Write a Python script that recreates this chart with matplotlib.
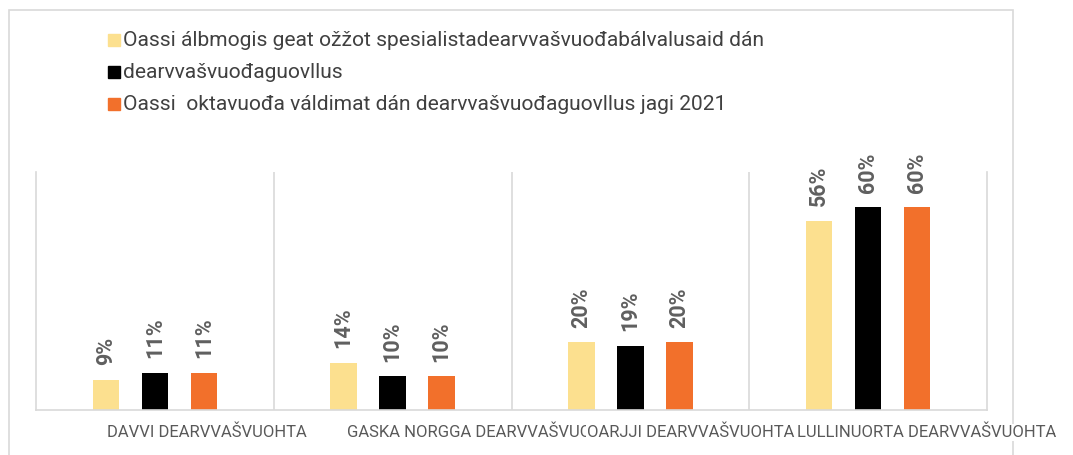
import numpy as np
import matplotlib
matplotlib.use("Agg")
import matplotlib.pyplot as plt
from matplotlib.patches import Rectangle

regions = ["DAVVI DEARVVAŠVUOHTA", "GASKA NORGGA DEARVVAŠVUOHTA",
           "OARJJI DEARVVAŠVUOHTA", "LULLINUORTA DEARVVAŠVUOHTA"]
series = ["Oassi álbmogis geat ožžot spesialistadearvvašvuođabálvalusaid dán",
          "dearvvašvuođaguovllus",
          "Oassi  oktavuođa váldimat dán dearvvašvuođaguovllus jagi 2021"]
pop_share = [9, 14, 20, 56]
area_share = [11, 10, 19, 60]
contact_share = [11, 10, 20, 60]
colors = ["#FCE08F", "#000000", "#F2702B"]
grey = "#595959"
line_grey = "#D9D9D9"

W, H = 1073, 455
fig = plt.figure(figsize=(W / 100, H / 100), dpi=100)
fig.patch.set_facecolor("white")

# outer chart frame
fig.patches.append(Rectangle((9 / W, -5 / H), 1004 / W, (H - 10 + 5) / H,
                             transform=fig.transFigure, fill=False,
                             edgecolor=line_grey, lw=1.2, zorder=-1))

ax = fig.add_axes([36 / W, (H - 410) / H, (987 - 36) / W, (410 - 172) / H])
ax.set_zorder(0)

x = np.arange(len(regions))
width = 0.112
step = 0.206
values = [pop_share, area_share, contact_share]
for k, (vals, c) in enumerate(zip(values, colors)):
    pos = x + (k - 1) * step
    ax.bar(pos, vals, width=width, color=c, zorder=2)
    for px, v in zip(pos, vals):
        ax.annotate(f"{v}%", (px, v), xytext=(0, 10.5), textcoords="offset points",
                    rotation=90, ha="center", va="bottom", fontsize=15.5,
                    fontweight="bold", color="#5f5f5f", family="Roboto")

ax.set_xlim(-0.5, 3.5)
ax.set_ylim(0, 70.4)
ax.set_xticks([])
ax.set_yticks([])
for b in x[:-1] + 0.5:
    ax.axvline(b, color=line_grey, lw=1.2, zorder=1)
ax.spines["top"].set_visible(False)
for s in ["left", "right", "bottom"]:
    ax.spines[s].set_color(line_grey)
    ax.spines[s].set_linewidth(1.2)

# category labels (Excel placed them off-centre and overlapping)
label_start = [0.30, 0.31, 0.318, 0.202]
for i, (name, off) in enumerate(zip(regions, label_start)):
    ax.text(i - 0.5 + off, -0.095, name, transform=ax.get_xaxis_transform(),
            ha="left", va="center", fontsize=12, color=grey, family="Roboto",
            clip_on=False, zorder=3 + i,
            bbox=dict(facecolor="white", edgecolor="none", pad=0.6))

# legend
for k, (name, c) in enumerate(zip(series, colors)):
    yc = 40 + 32 * k
    fig.patches.append(Rectangle((108 / W, (H - yc - 6) / H), 12 / W, 12 / H,
                                 transform=fig.transFigure, color=c, zorder=2))
    fig.text(123 / W, (H - yc) / H, name, ha="left", va="center",
             fontsize=15.1, color="#404040", family="Roboto")

fig.savefig("out.png", dpi=100)
